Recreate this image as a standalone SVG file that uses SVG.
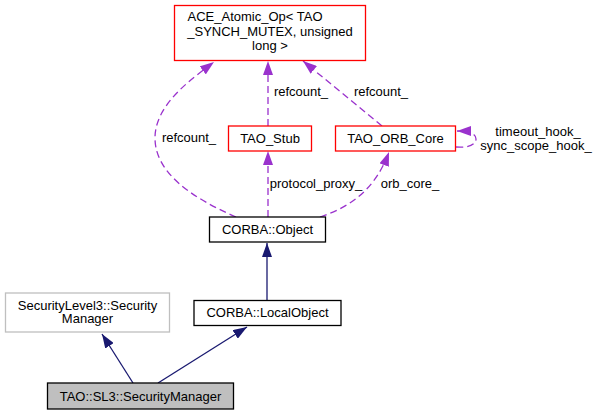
<svg xmlns="http://www.w3.org/2000/svg" width="598" height="415" viewBox="0 0 598 415">
<defs>
<style>
text{font-family:"Liberation Sans",Arial,Helvetica,sans-serif;font-size:13px;fill:#000;text-anchor:middle}
.red{fill:#fff;stroke:#ff0000;stroke-width:1.3}
.blk{fill:#fff;stroke:#000;stroke-width:1.3}
.gry{fill:#fff;stroke:#bfbfbf;stroke-width:1.3}
.cur{fill:#bfbfbf;stroke:#000;stroke-width:1.3}
.inh{fill:none;stroke:#191970;stroke-width:1.3}
.use{fill:none;stroke:#9a32cd;stroke-width:1.3;stroke-dasharray:7,4}
</style>
<marker id="an" viewBox="0 0 10 10" refX="10" refY="5" markerWidth="14" markerHeight="10" markerUnits="userSpaceOnUse" orient="auto" preserveAspectRatio="none"><path d="M0,0 L10,5 L0,10 z" fill="#191970"/></marker>
<marker id="ap" viewBox="0 0 10 10" refX="10" refY="5" markerWidth="14" markerHeight="10" markerUnits="userSpaceOnUse" orient="auto" preserveAspectRatio="none"><path d="M0,0 L10,5 L0,10 z" fill="#9a32cd"/></marker>
</defs>
<rect width="598" height="415" fill="#fff"/>
<g id="edges">
<path class="inh" d="M267,300 L267,243" marker-end="url(#an)"/>
<path class="inh" d="M133,383 L102,334" marker-end="url(#an)"/>
<path class="inh" d="M158,383 L247,327" marker-end="url(#an)"/>
<path class="use" d="M236,217 C190,197 155,172 155,138 C155,105 190,80 214,62" marker-end="url(#ap)"/>
<path class="use" d="M268,126 L268,61" marker-end="url(#ap)"/>
<path class="use" d="M382,126 L303,61" marker-end="url(#ap)"/>
<path class="use" d="M268,217 L268,151" marker-end="url(#ap)"/>
<path class="use" d="M320,217 C350,207 375,190 389,152" marker-end="url(#ap)"/>
<path class="use" d="M456,147 C470,148 476,144 476,139 C476,134 470,131 457,131" marker-end="url(#ap)"/>
<text x="189" y="141.5">refcount_</text>
<text x="301" y="96">refcount_</text>
<text x="381" y="96">refcount_</text>
<text x="316" y="188">protocol_proxy_</text>
<text x="410" y="188">orb_core_</text>
<text x="538" y="135.5">timeout_hook_</text>
<text x="536" y="149.5">sync_scope_hook_</text>
</g>
<g id="ace">
<rect class="red" x="174.5" y="5.5" width="191" height="55"/>
<text x="255" y="21">ACE_Atomic_Op&lt; TAO</text>
<text x="270" y="35.5">_SYNCH_MUTEX, unsigned</text>
<text x="270" y="50">long &gt;</text>
</g>
<g id="stub">
<rect class="red" x="228.5" y="126" width="83" height="25"/>
<text x="270" y="143">TAO_Stub</text>
</g>
<g id="orbcore">
<rect class="red" x="335.5" y="126" width="120" height="25"/>
<text x="395.5" y="143">TAO_ORB_Core</text>
</g>
<g id="object">
<rect class="blk" x="209.5" y="217" width="116" height="25"/>
<text x="267.5" y="234">CORBA::Object</text>
</g>
<g id="localobject">
<rect class="blk" x="194" y="300.5" width="147" height="25"/>
<text x="267.5" y="317">CORBA::LocalObject</text>
</g>
<g id="sl3mgr">
<rect class="gry" x="5.5" y="293" width="164" height="39"/>
<text x="87.5" y="309.5">SecurityLevel3::Security</text>
<text x="87.5" y="323">Manager</text>
</g>
<g id="secmgr">
<rect class="cur" x="47.5" y="383" width="186" height="26"/>
<text x="140.5" y="400.5">TAO::SL3::SecurityManager</text>
</g>
</svg>
